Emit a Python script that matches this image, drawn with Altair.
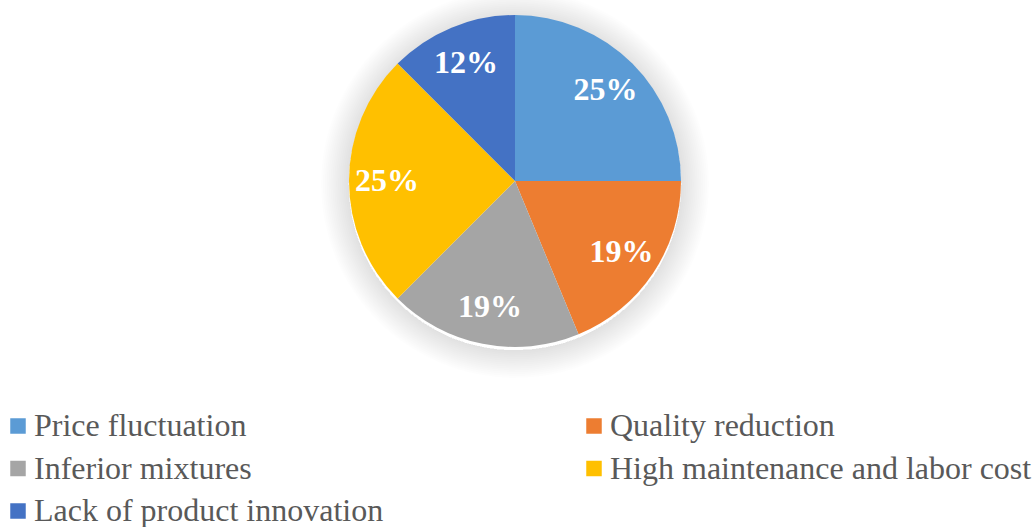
import altair as alt
import pandas as pd

categories = ["Price fluctuation", "Quality reduction", "Inferior mixtures",
              "High maintenance and labor cost", "Lack of product innovation"]
counts = [4, 3, 3, 4, 2]
labels = ["25%", "19%", "19%", "25%", "12%"]
colors = ["#5B9BD5", "#ED7D31", "#A5A5A5", "#FFC000", "#4472C4"]

# legend fills column by column; this order gives the row-wise reading of the reference
legend_order = [0, 2, 4, 1, 3]
legend_domain = [categories[i] for i in legend_order]
legend_range = [colors[i] for i in legend_order]

df = pd.DataFrame({"category": categories, "count": counts, "label": labels,
                   "idx": list(range(len(categories)))})

shadow_steps = list(range(1, 16))
shadow = pd.DataFrame({"step": shadow_steps, "one": [1] * len(shadow_steps)})

R = 166
FONT = "Times New Roman, Liberation Serif, DejaVu Serif, serif"

shadow_layer = alt.Chart(shadow).mark_arc(color="#000000", opacity=0.008).encode(
    theta=alt.Theta("one:Q", stack=False, scale=alt.Scale(domain=[0, 1])),
    radius=alt.Radius("step:Q", scale=alt.Scale(type="linear", domain=[0, 15], range=[R, R + 28])),
    y=alt.value(184),
)

color = alt.Color("category:N",
                  scale=alt.Scale(domain=legend_domain, range=legend_range),
                  legend=alt.Legend(orient="none", legendX=2, legendY=410, columns=2,
                                    columnPadding=194, rowPadding=10.5, title=None,
                                    symbolType="square", symbolSize=240, symbolStrokeWidth=0,
                                    labelFont=FONT, labelFontSize=32,
                                    labelColor="#595959", labelLimit=0, labelOffset=0,
                                    padding=0))

base = alt.Chart(df).encode(
    theta=alt.Theta("count:Q", stack=True),
    order=alt.Order("idx:Q"),
)

pie = base.mark_arc(outerRadius=R).encode(color=color)
text = base.mark_text(radius=128, font=FONT, fontWeight="bold",
                      fontSize=32, color="white", baseline="middle").encode(text="label:N")

chart = alt.layer(shadow_layer, alt.layer(pie, text)).resolve_scale(
    theta="independent", radius="independent"
).properties(
    width=1030, height=362,
    autosize=alt.AutoSizeParams(type="none"),
    padding={"left": 0, "top": 0, "right": 5, "bottom": 165},
    background="white",
).configure_view(stroke=None, strokeWidth=0)

chart.save("out.html", embed_options={"renderer": "svg", "actions": False})
